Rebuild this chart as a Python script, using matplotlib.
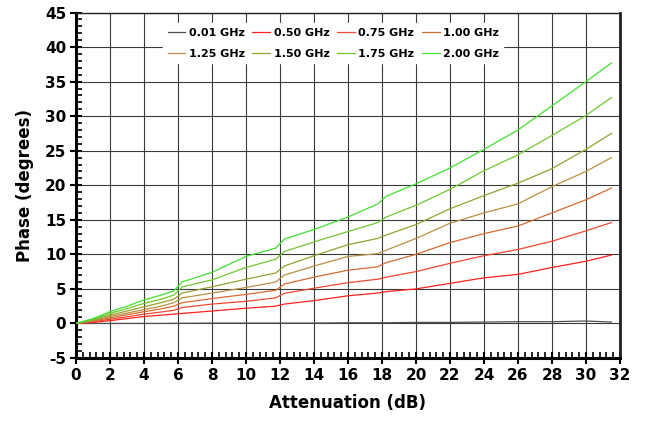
import matplotlib
matplotlib.use("Agg")
import matplotlib.pyplot as plt
from matplotlib.ticker import MultipleLocator

# Attenuation states (dB) at which phase is sampled
atten = [0, 1, 2, 3, 4, 5, 5.75, 6.25, 8, 10, 11.75, 12.25, 14, 16,
         17.75, 18.25, 20, 22, 24, 26, 28, 30, 31.5]

# Relative phase (degrees) per frequency
phase_001 = [0, 0, 0, 0, 0, 0, 0.02, 0.02, 0.05, 0.05, 0.05, 0.05, 0.05, 0.1,
             0.1, 0.1, 0.15, 0.15, 0.2, 0.25, 0.25, 0.35, 0.2]
phase_050 = [0, 0.15, 0.4, 0.7, 1.0, 1.2, 1.35, 1.45, 1.8, 2.2, 2.5, 2.8, 3.3, 4.0,
             4.4, 4.6, 5.0, 5.8, 6.6, 7.1, 8.1, 9.0, 9.9]
phase_075 = [0, 0.25, 0.6, 0.95, 1.35, 1.65, 1.9, 2.3, 2.8, 3.2, 3.7, 4.35, 5.1, 5.9,
             6.4, 6.7, 7.5, 8.7, 9.8, 10.7, 11.9, 13.4, 14.6]
phase_100 = [0, 0.35, 0.8, 1.25, 1.7, 2.1, 2.5, 3.0, 3.6, 4.2, 4.8, 5.7, 6.7, 7.7,
             8.2, 8.8, 10.0, 11.7, 13.0, 14.1, 16.0, 17.9, 19.6]
phase_125 = [0, 0.4, 1.0, 1.5, 2.0, 2.5, 3.0, 3.7, 4.4, 5.2, 6.0, 7.0, 8.3, 9.7,
             10.1, 10.6, 12.3, 14.5, 16.0, 17.3, 19.8, 22.0, 24.0]
phase_150 = [0, 0.5, 1.2, 1.8, 2.4, 3.0, 3.5, 4.4, 5.3, 6.4, 7.3, 8.3, 9.8, 11.4,
             12.3, 12.8, 14.3, 16.6, 18.5, 20.3, 22.4, 25.2, 27.5]
phase_175 = [0, 0.6, 1.45, 2.15, 2.9, 3.5, 4.1, 5.3, 6.3, 8.1, 9.3, 10.4, 11.8, 13.3,
             14.6, 15.4, 17.1, 19.4, 22.1, 24.4, 27.2, 30.1, 32.7]
phase_200 = [0, 0.7, 1.7, 2.5, 3.4, 4.1, 4.7, 6.0, 7.4, 9.7, 10.9, 12.2, 13.6, 15.4,
             17.3, 18.4, 20.2, 22.5, 25.2, 28.0, 31.5, 35.0, 37.7]

labels = ["0.01 GHz", "0.50 GHz", "0.75 GHz", "1.00 GHz",
          "1.25 GHz", "1.50 GHz", "1.75 GHz", "2.00 GHz"]
series = [phase_001, phase_050, phase_075, phase_100,
          phase_125, phase_150, phase_175, phase_200]
colors = ["#505050", "#ff2020", "#f04830", "#d86a30",
          "#b89040", "#98a030", "#70c830", "#40e030"]

plt.rcParams["font.family"] = ["DejaVu Sans"]
plt.rcParams["font.weight"] = "bold"
plt.rcParams["axes.unicode_minus"] = False

fig = plt.figure(figsize=(6.45, 4.24), dpi=100)
ax = fig.add_axes([0.1178, 0.1557, 0.8434, 0.8148])

handles = []
for ys, lab, c in zip(series, labels, colors):
    h, = ax.plot(atten, ys, color=c, lw=0.9, label=lab, zorder=3)
    handles.append(h)

ax.set_xlim(0, 32)
ax.set_ylim(-5, 45)
ax.xaxis.set_major_locator(MultipleLocator(2))
ax.xaxis.set_minor_locator(MultipleLocator(0.4))
ax.yaxis.set_major_locator(MultipleLocator(5))
ax.yaxis.set_minor_locator(MultipleLocator(1))

ax.grid(True, which="major", color="#3a3a3a", lw=0.8, zorder=1)
ax.tick_params(which="major", direction="inout", length=8, width=1.5,
               labelsize=11, pad=3)
ax.tick_params(which="minor", direction="in", length=4, width=1.2)
for lbl in ax.get_xticklabels() + ax.get_yticklabels():
    lbl.set_fontweight("bold")

for side in ("left", "bottom"):
    ax.spines[side].set_linewidth(2.2)
    ax.spines[side].set_color("black")
ax.spines["right"].set_linewidth(2.0)
ax.spines["right"].set_color("#222222")
ax.spines["top"].set_linewidth(1.0)
ax.spines["top"].set_color("#222222")

ax.set_xlabel("Attenuation (dB)", fontsize=12, fontweight="bold", labelpad=8)
ax.set_ylabel("Phase (degrees)", fontsize=12, fontweight="bold", labelpad=8)

# legend filled row by row: two rows of four entries
order = [0, 4, 1, 5, 2, 6, 3, 7]
leg = ax.legend([handles[i] for i in order], [labels[i] for i in order],
                ncol=4, loc="upper center", bbox_to_anchor=(0.473, 0.985),
                frameon=True, fancybox=False, framealpha=1.0, edgecolor="white",
                prop={"size": 8, "weight": "bold"}, handlelength=1.6,
                handletextpad=0.3, columnspacing=0.7, labelspacing=1.0,
                borderpad=0.4)
leg.set_zorder(5)

fig.savefig("out.png", dpi=100, facecolor="white")
